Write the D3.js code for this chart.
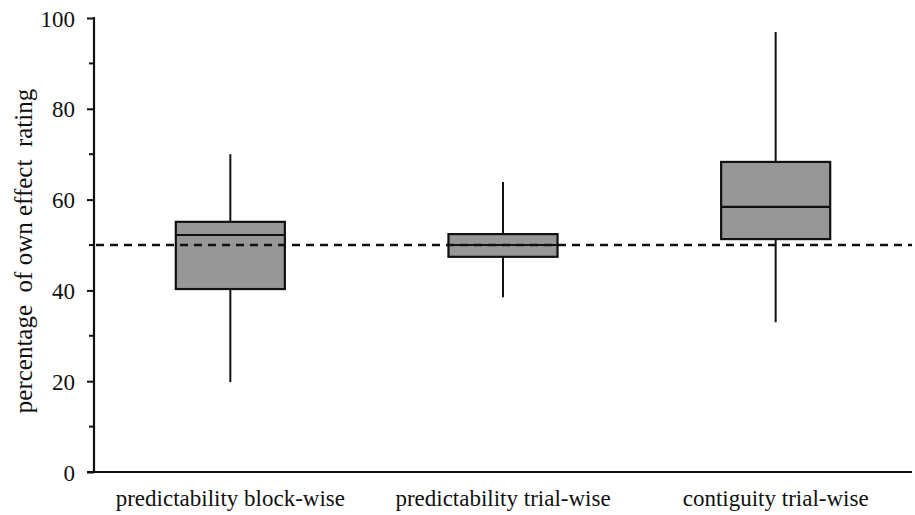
<!DOCTYPE html>
<html>
<head>
<meta charset="utf-8">
<script src="https://cdn.jsdelivr.net/npm/d3@7"></script>
<style>
  body { margin: 0; background: #fff; }
  text { font-family: "Liberation Serif", "Times New Roman", serif; fill: #111; }
</style>
</head>
<body>
<svg id="chart" width="915" height="515"></svg>
<script>
// Conditions and box statistics
const conditions = ["predictability block-wise", "predictability trial-wise", "contiguity trial-wise"];
const whiskerLow = [19.8, 38.5, 33.0];
const q1 = [40.3, 47.4, 51.3];
const median = [52.2, 50.0, 58.4];
const q3 = [55.1, 52.4, 68.3];
const whiskerHigh = [70.0, 63.9, 96.9];
const chanceLevel = 50;
const yTicks = [0, 20, 40, 60, 80, 100];
const yMinorTicks = [10, 30, 50, 70, 90];

const data = conditions.map((c, i) => ({
    name: c, lo: whiskerLow[i], q1: q1[i], med: median[i], q3: q3[i], hi: whiskerHigh[i]
}));

const svg = d3.select("#chart");
const margin = { left: 94, right: 3, top: 18, bottom: 43 };
const width = 915, height = 515;

const x = d3.scaleBand()
    .domain(conditions)
    .range([margin.left, width - margin.right])
    .paddingInner(0.6)
    .paddingOuter(0.3);

const y = d3.scaleLinear()
    .domain([0, 100])
    .range([height - margin.bottom, margin.top]);

// y axis
const yAxis = svg.append("g")
    .attr("transform", `translate(${margin.left},0)`)
    .call(d3.axisLeft(y).tickValues(yTicks).tickSize(7).tickPadding(12).tickFormat(d3.format("d")));
yAxis.select(".domain").remove();
yAxis.selectAll(".tick line").attr("stroke", "#111").attr("stroke-width", 2);
yAxis.selectAll(".tick text")
    .style("font-size", "23px")
    .attr("dy", "0.35em");

svg.append("g").selectAll("line")
    .data(yMinorTicks)
    .join("line")
    .attr("x1", margin.left - 5).attr("x2", margin.left)
    .attr("y1", d => y(d)).attr("y2", d => y(d))
    .attr("stroke", "#111").attr("stroke-width", 2);

svg.append("line")
    .attr("x1", margin.left).attr("x2", margin.left)
    .attr("y1", y(100) - 1).attr("y2", y(0))
    .attr("stroke", "#111").attr("stroke-width", 2.2);

// x axis baseline
svg.append("line")
    .attr("x1", margin.left - 7).attr("x2", width - margin.right)
    .attr("y1", y(0)).attr("y2", y(0))
    .attr("stroke", "#111").attr("stroke-width", 2.2);

// category labels
svg.append("g").selectAll("text")
    .data(conditions)
    .join("text")
    .attr("x", d => x(d) + x.bandwidth() / 2)
    .attr("y", y(0) + 34)
    .attr("text-anchor", "middle")
    .style("font-size", "23px")
    .text(d => d);

// y axis title
svg.append("text")
    .attr("transform", `translate(32,${(y(0) + y(100)) / 2 + 6}) rotate(-90)`)
    .attr("text-anchor", "middle")
    .style("font-size", "25px")
    .style("white-space", "pre")
    .text("percentage  of own effect  rating");

// boxes
const boxes = svg.append("g").selectAll("g")
    .data(data)
    .join("g");

boxes.append("line")
    .attr("x1", d => x(d.name) + x.bandwidth() / 2)
    .attr("x2", d => x(d.name) + x.bandwidth() / 2)
    .attr("y1", d => y(d.lo)).attr("y2", d => y(d.hi))
    .attr("stroke", "#111").attr("stroke-width", 2);

boxes.append("rect")
    .attr("x", d => x(d.name))
    .attr("width", x.bandwidth())
    .attr("y", d => y(d.q3))
    .attr("height", d => y(d.q1) - y(d.q3))
    .attr("fill", "#979797")
    .attr("stroke", "#111").attr("stroke-width", 2.2);

boxes.append("line")
    .attr("x1", d => x(d.name)).attr("x2", d => x(d.name) + x.bandwidth())
    .attr("y1", d => y(d.med)).attr("y2", d => y(d.med))
    .attr("stroke", "#111").attr("stroke-width", 2.2);

// chance level
svg.append("line")
    .attr("x1", margin.left + 2).attr("x2", width - margin.right)
    .attr("y1", y(chanceLevel)).attr("y2", y(chanceLevel))
    .attr("stroke", "#111").attr("stroke-width", 2.4)
    .attr("stroke-dasharray", "8,6");
</script>
</body>
</html>
